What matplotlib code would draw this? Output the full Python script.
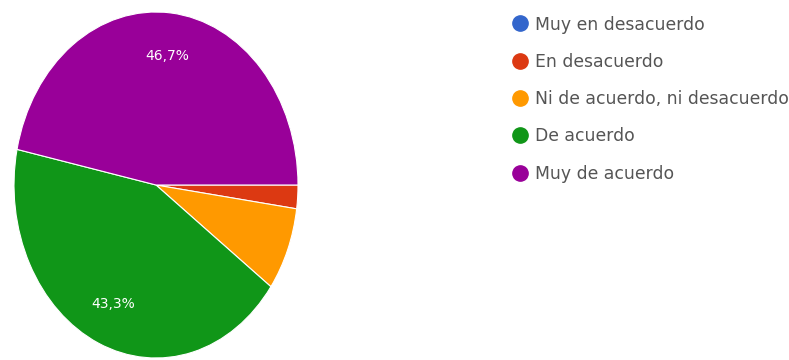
import matplotlib.pyplot as plt
from matplotlib.lines import Line2D

labels = ['Muy en desacuerdo', 'En desacuerdo', 'Ni de acuerdo, ni desacuerdo',
          'De acuerdo', 'Muy de acuerdo']
values = [0.0, 2.2, 7.8, 43.3, 46.7]
colors = ['#3366cc', '#dc3912', '#ff9900', '#109618', '#990099']


def fmt(p):
    if p < 10:
        return ''
    return ('%.1f%%' % p).replace('.', ',')


fig = plt.figure(figsize=(7.89, 3.60), dpi=100)
ax = fig.add_axes([14 / 789, 1 - 358 / 360, 284 / 789, 346 / 360])

wedges, texts, autotexts = ax.pie(values, colors=colors, startangle=0, counterclock=False,
                                  autopct=fmt, pctdistance=0.75,
                                  wedgeprops=dict(edgecolor='white', linewidth=0.8))
for t in autotexts:
    t.set_color('white')
    t.set_fontsize(10)
ax.set_aspect('auto')
ax.set_xlim(-1.0, 1.0)
ax.set_ylim(-1.0, 1.0)

handles = [Line2D([], [], marker='o', linestyle='', markersize=11,
                  markerfacecolor=c, markeredgecolor=c) for c in colors]
fig.legend(handles, labels, loc='upper left', bbox_to_anchor=(0.627, 1.0),
           frameon=False, fontsize=12.4, labelcolor='#555555',
           handletextpad=0.3, labelspacing=1.12, handlelength=1.15)

fig.savefig('out.png', dpi=100)
